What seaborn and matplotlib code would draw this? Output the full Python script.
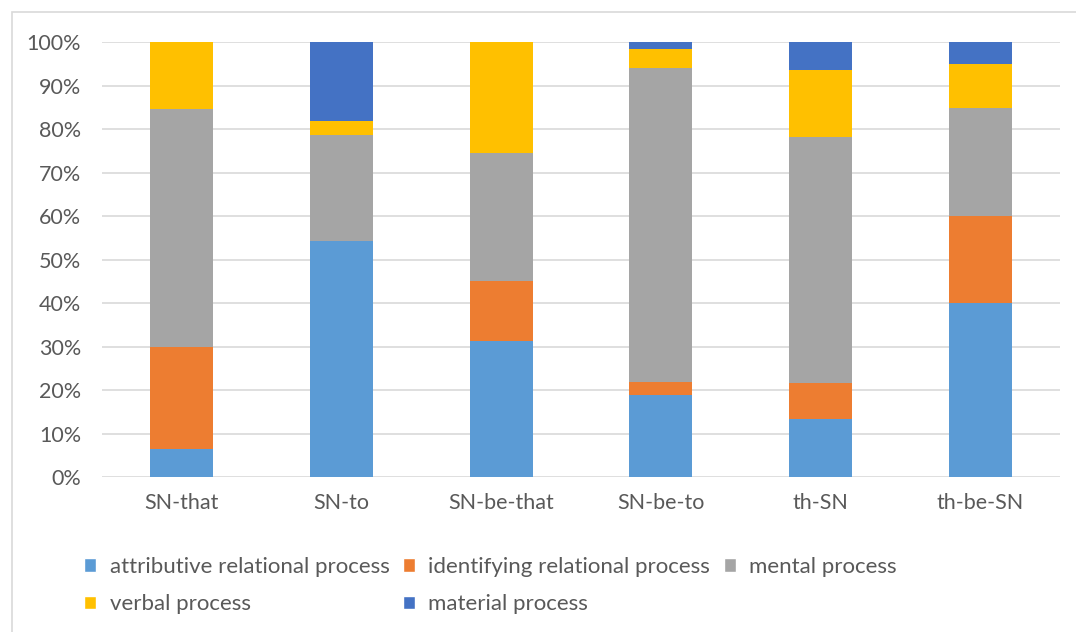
import numpy as np
import pandas as pd
import matplotlib
matplotlib.use('Agg')
import matplotlib.pyplot as plt
import seaborn as sns
from matplotlib.patches import Patch, Rectangle
from matplotlib.ticker import PercentFormatter

# values (percent of each structure)
structures = ["SN-that", "SN-to", "SN-be-that", "SN-be-to", "th-SN", "th-be-SN"]
attributive = [6.5, 54.4, 31.4, 18.9, 13.3, 40.0]
identifying = [23.5, 0.0, 13.8, 2.9, 8.3, 20.0]
mental = [54.7, 24.3, 29.4, 72.3, 56.6, 25.0]
verbal = [15.3, 3.2, 25.4, 4.4, 15.4, 10.0]
material = [0.0, 18.1, 0.0, 1.5, 6.4, 5.0]

series = ["attributive relational process", "identifying relational process",
          "mental process", "verbal process", "material process"]
colors = ["#5B9BD5", "#ED7D31", "#A5A5A5", "#FFC000", "#4472C4"]

sns.set_theme(style="white")
plt.rcParams['font.family'] = ['Lato', 'DejaVu Sans']

df = pd.DataFrame({"structure": structures, series[0]: attributive, series[1]: identifying,
                   series[2]: mental, series[3]: verbal, series[4]: material})
cum = df[series].cumsum(axis=1)

fig = plt.figure(figsize=(10.76, 6.32), dpi=100)
ax = fig.add_axes([102 / 1076, 1 - 477.3 / 632, 958 / 1076, 435 / 632])

# stacked bars: draw cumulative totals from the top segment down
for name, col in reversed(list(zip(series, colors))):
    sns.barplot(x=df["structure"], y=cum[name], color=col, width=0.395,
                saturation=1, ax=ax, linewidth=0, zorder=3)

ax.set_ylim(0, 100)
ax.set_xlim(-0.5, 5.5)
ax.set_yticks(np.arange(0, 101, 10))
ax.yaxis.set_major_formatter(PercentFormatter(decimals=0))
ax.grid(axis="y", color="#D9D9D9", linewidth=1.2, zorder=0)
ax.set_axisbelow(True)
for s in ax.spines.values():
    s.set_visible(False)
ax.set_xlabel("")
ax.set_ylabel("")
ax.tick_params(axis="both", length=0, labelsize=15.5, labelcolor="#595959")
ax.tick_params(axis="y", pad=15)
ax.tick_params(axis="x", pad=11)

handles = [Patch(facecolor=c, label=n) for n, c in zip(series, colors)]
order = [0, 3, 1, 4, 2]
leg = fig.legend([handles[i] for i in order], [series[i] for i in order],
                 loc="upper left", bbox_to_anchor=(84 / 1076, 1 - 557 / 632), ncol=3,
                 frameon=False, fontsize=16, borderpad=0, borderaxespad=0,
                 handlelength=0.55, handleheight=0.55, handletextpad=0.6,
                 columnspacing=0.6, labelspacing=0.78)
for t in leg.get_texts():
    t.set_color("#595959")

# chart area border
fig.patches.append(Rectangle((12 / 1076, -0.1), 1.5, 1.1 - 12 / 632, transform=fig.transFigure,
                             fill=False, edgecolor="#D9D9D9", linewidth=1.2))

fig.savefig("out.png", dpi=100)
